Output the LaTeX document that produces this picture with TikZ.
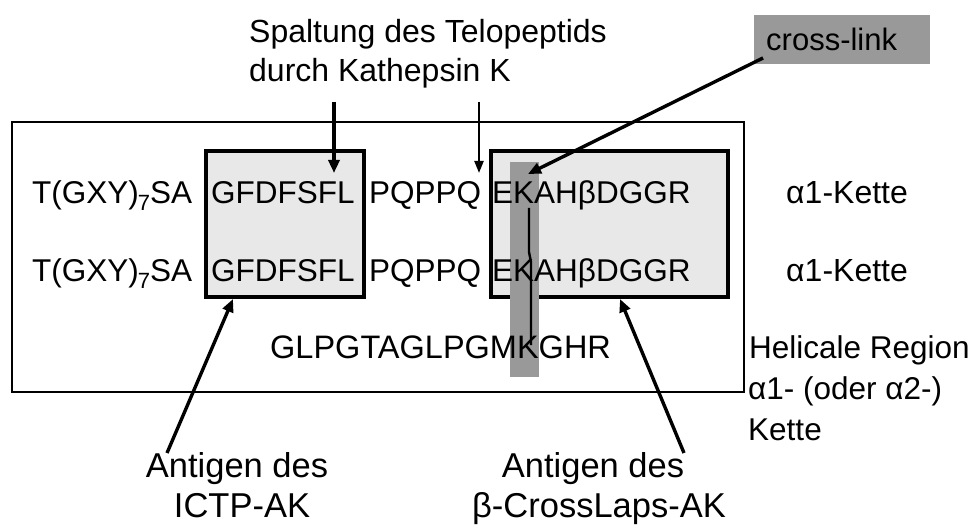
\documentclass[tikz,border=0pt]{standalone}
\usepackage{fontspec}
\setmainfont{Liberation Sans}
\usetikzlibrary{arrows.meta}
\definecolor{stripgray}{RGB}{153,153,153}
\definecolor{boxgray}{RGB}{232,232,232}
\begin{document}
\begin{tikzpicture}[x=1pt,y=-1pt,
  seq/.style={anchor=base west, inner sep=0pt, font=\fontsize{31.5}{36}\selectfont},
  wlbl/.style={anchor=base west, inner sep=0pt, font=\fontsize{32}{36}\selectfont},
  blbl/.style={anchor=base, inner sep=0pt, font=\fontsize{34.5}{40}\selectfont},
  seqbox/.style={draw=black, line width=3.2pt, fill=boxgray},
  arr/.style={line width=3.4pt, -{Triangle[length=13pt,width=11pt]}},
  thinarr/.style={line width=2.2pt, -{Triangle[length=12pt,width=9pt]}}
]
\useasboundingbox (0,0) rectangle (976,526);
% outer frame
\draw[line width=1.2pt] (12,122) rectangle (744,392);
% boxes
\draw[seqbox] (206,151) rectangle (364,297);
\draw[seqbox] (491,151) rectangle (728,297);
% cross-link strip
\fill[stripgray] (510,162) rectangle (539,377);
% sequences row 1
\node[seq] (r1a) at (32,204) {T(GXY)\kern-1pt\textsubscript{7}\kern-0.5pt SA};
\node[seq] (r1b) at (211,204) {GFDFSFL};
\node[seq] (r1c) at (369,204) {PQPPQ};
\node[seq] (r1d) at (492,204) {EKAHβDGGR};
% row 2
\node[seq] (r2a) at (32,282) {T(GXY)\kern-1pt\textsubscript{7}\kern-0.5pt SA};
\node[seq] (r2b) at (211,282) {GFDFSFL};
\node[seq] (r2c) at (369,282) {PQPPQ};
\node[seq] (r2d) at (492,282) {EKAHβDGGR};
% row 3
\node[wlbl, font=\fontsize{32.5}{36}\selectfont] (r3) at (270,358) {GLPGTAGLPGMKGHR};
% cross-link line
\draw[line width=2.4pt] (529,208) -- (529,252) -- (531,262) -- (531,345);
% right labels
\node[wlbl] (k1) at (786,204) {α1-Kette};
\node[wlbl] (k2) at (786,282) {α1-Kette};
\node[wlbl, font=\fontsize{31.5}{36}\selectfont] (h1) at (749,358) {Helicale Region};
\node[wlbl, font=\fontsize{31.5}{36}\selectfont] (h2) at (748,399) {α1- (oder α2-)};
\node[wlbl, font=\fontsize{31.5}{36}\selectfont] (h3) at (748,440) {Kette};
% top label
\node[wlbl] (t1) at (249,43) {Spaltung des Telopeptids};
\node[wlbl] (t2) at (249,82) {durch Kathepsin K};
% cross-link label
\node[fill=stripgray, minimum width=176pt, minimum height=49pt, inner sep=0pt, anchor=north west] (clbox) at (754,15) {};
\node[anchor=base west, inner sep=0pt, font=\fontsize{31}{36}\selectfont] (cl) at (766,51) {cross-link};
% bottom labels
\node[blbl] (b1) at (237,477) {Antigen des};
\node[blbl] (b2) at (242,517) {ICTP-AK};
\node[blbl] (b3) at (593,477) {Antigen des};
\node[blbl] (b4) at (599,517) {β-CrossLaps-AK};
% arrow coordinates
\coordinate (c1s) at (334,102);
\coordinate (c1e) at (334,173);
\coordinate (c2s) at (479,102);
\coordinate (c2e) at (479,173);
\coordinate (xls) at (763,58);
\coordinate (xle) at (528,174);
\coordinate (a1s) at (167,453);
\coordinate (a1e) at (233,299);
\coordinate (a2s) at (684,453);
\coordinate (a2e) at (620,299);
\draw[arr] (c1s) -- (c1e);
\draw[thinarr] (c2s) -- (c2e);
\draw[arr] (xls) -- (xle);
\draw[arr] (a1s) -- (a1e);
\draw[arr] (a2s) -- (a2e);
\end{tikzpicture}
\end{document}
